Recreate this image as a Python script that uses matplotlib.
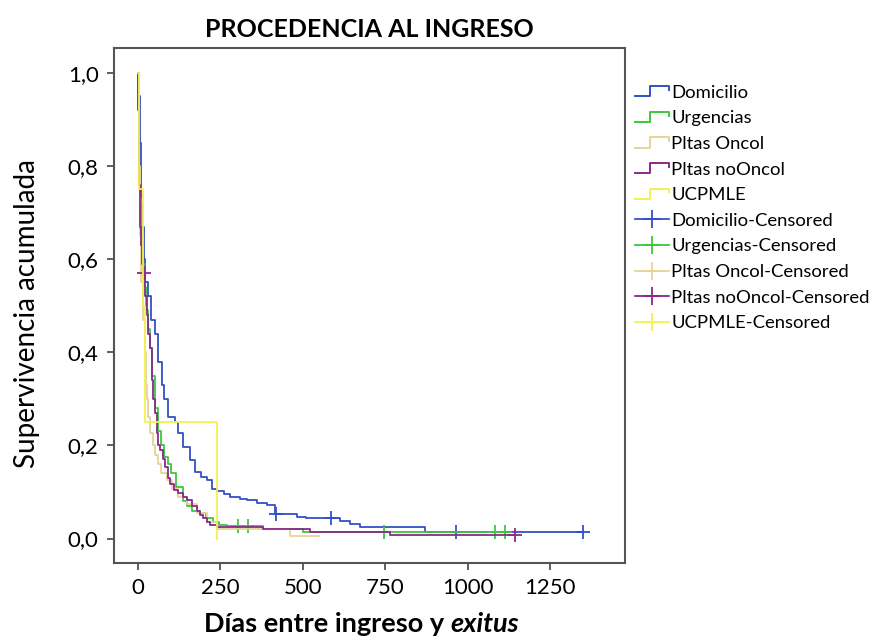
import numpy as np
import matplotlib
matplotlib.use("Agg")
import matplotlib.pyplot as plt
from matplotlib.lines import Line2D
from matplotlib.legend_handler import HandlerBase
from matplotlib.offsetbox import TextArea, HPacker, AnchoredOffsetbox

plt.rcParams['font.family'] = ['Lato', 'DejaVu Sans']

# Kaplan-Meier curves (time in days, cumulative survival)
dom_t = [0, 2, 5, 8, 10, 13, 17, 22, 30, 40, 52, 61, 72, 80, 92, 112, 122, 137, 158, 173,
         190, 208, 223, 239, 260, 279, 310, 330, 360, 390, 416, 481, 511, 612, 643, 673, 870, 1350]
dom_s = [1.0, 0.95, 0.85, 0.78, 0.72, 0.67, 0.60, 0.55, 0.52, 0.47, 0.44, 0.38, 0.33, 0.30, 0.26,
         0.25, 0.226, 0.196, 0.168, 0.143, 0.133, 0.125, 0.107, 0.103, 0.095, 0.089, 0.085, 0.082,
         0.077, 0.071, 0.053, 0.046, 0.043, 0.038, 0.032, 0.024, 0.015, 0.015]
dom_cens = [418, 587, 965, 1350]

urg_t = [0, 1, 2, 4, 6, 8, 11, 14, 18, 24, 30, 36, 41, 50, 60, 70, 80, 90, 100, 115, 137, 150,
         165, 188, 205, 228, 245, 270, 380, 500, 1115]
urg_s = [1.0, 0.93, 0.86, 0.79, 0.73, 0.68, 0.63, 0.59, 0.54, 0.49, 0.45, 0.41, 0.35, 0.28, 0.23,
         0.20, 0.175, 0.16, 0.14, 0.11, 0.08, 0.07, 0.06, 0.054, 0.045, 0.035, 0.03, 0.026, 0.02,
         0.014, 0.014]
urg_cens = [304, 334, 747, 1083, 1115]

onc_t = [0, 2, 5, 10, 15, 20, 24, 26, 31, 36, 44, 52, 60, 70, 87, 102, 120, 150, 180, 210, 239, 461, 548]
onc_s = [1.0, 0.8, 0.65, 0.55, 0.47, 0.40, 0.33, 0.30, 0.26, 0.226, 0.20, 0.18, 0.16, 0.14, 0.125,
         0.107, 0.09, 0.075, 0.055, 0.035, 0.02, 0.006, 0.006]
onc_cens = []

non_t = [0, 1, 2, 3, 4, 5, 7, 9, 12, 15, 20, 26, 31, 36, 41, 46, 50, 57, 62, 67, 75, 82, 90, 97,
         110, 121, 135, 148, 165, 178, 188, 197, 208, 218, 239, 380, 521, 764, 1144]
non_s = [1.0, 0.92, 0.85, 0.80, 0.76, 0.72, 0.67, 0.63, 0.59, 0.57, 0.52, 0.48, 0.44, 0.41, 0.34,
         0.30, 0.27, 0.226, 0.20, 0.19, 0.17, 0.153, 0.13, 0.118, 0.105, 0.097, 0.09, 0.082, 0.07,
         0.06, 0.05, 0.043, 0.035, 0.028, 0.024, 0.02, 0.014, 0.007, 0.007]
non_cens = [17, 1144]

ucp_t = [0, 3, 14, 22, 239]
ucp_s = [1.0, 0.75, 0.5, 0.25, 0.0]
ucp_cens = []

groups = ['Domicilio', 'Urgencias', 'Pltas Oncol', 'Pltas noOncol', 'UCPMLE']
colors = ['#3450c4', '#3cc83c', '#e6d39a', '#8a2a8c', '#f2f250']
curves = [(dom_t, dom_s, dom_cens), (urg_t, urg_s, urg_cens), (onc_t, onc_s, onc_cens),
          (non_t, non_s, non_cens), (ucp_t, ucp_s, ucp_cens)]


class StepHandler(HandlerBase):
    def create_artists(self, legend, orig_handle, xdescent, ydescent, width, height, fontsize, trans):
        x = np.array([0, 0.45, 0.45, 1.0, 1.0]) * width - xdescent
        y = np.array([0.1, 0.1, 0.9, 0.9, 0.6]) * height - ydescent
        l = Line2D(x, y, color=orig_handle.get_color(), lw=1.4)
        l.set_transform(trans)
        return [l]


fig = plt.figure(figsize=(8.77, 6.4), dpi=100)
ax = fig.add_axes([0.130, 0.120, 0.5827, 0.8047])

line_handles = []
cens_handles = []
for (t, s, cens), name, c in zip(curves, groups, colors):
    ln, = ax.step(t, s, where='post', color=c, lw=1.3)
    if len(cens) > 0:
        idx = np.searchsorted(t, cens, side='right') - 1
        ax.plot(cens, np.array(s)[idx], linestyle='none', marker='+', markersize=10,
                mew=1.3, color=c)
    line_handles.append(ln)
    cens_handles.append(Line2D([], [], color=c, lw=1.3, marker='+', markersize=13, mew=1.3))

ax.set_xlim(-73, 1478)
ax.set_ylim(-0.053, 1.053)
ax.set_xticks([0, 250, 500, 750, 1000, 1250])
ax.set_yticks([0, 0.2, 0.4, 0.6, 0.8, 1.0])
ax.set_yticklabels([f'{v:.1f}'.replace('.', ',') for v in [0, 0.2, 0.4, 0.6, 0.8, 1.0]])
ax.tick_params(labelsize=16, length=5, width=1.2, color='#444444', pad=6)
for sp in ax.spines.values():
    sp.set_color('#555555')
    sp.set_linewidth(1.5)

ax.set_title('PROCEDENCIA AL INGRESO', fontsize=18, fontweight='bold', pad=8)
fig.text(0.031, 0.51, 'Supervivencia acumulada', rotation=90, fontsize=20,
         ha='center', va='center')

part1 = TextArea('Días entre ingreso y ', textprops=dict(fontsize=19.5, fontweight='bold'))
part2 = TextArea('exitus', textprops=dict(fontsize=19.5, fontweight='bold', style='italic'))
box = HPacker(children=[part1, part2], align='baseline', pad=0, sep=0)
anch = AnchoredOffsetbox(loc='center', child=box, frameon=False,
                         bbox_to_anchor=(0.412, 0.025), bbox_transform=fig.transFigure,
                         borderpad=0)
fig.add_artist(anch)

labels = groups + [g + '-Censored' for g in groups]
handler_map = {h: StepHandler() for h in line_handles}
fig.legend(line_handles + cens_handles, labels, loc='upper left',
           bbox_to_anchor=(0.714, 0.882), frameon=False, fontsize=13.3,
           handlelength=1.8, handletextpad=0.15, labelspacing=0.52,
           borderpad=0, numpoints=1, handler_map=handler_map)

fig.savefig('out.png', dpi=100)
